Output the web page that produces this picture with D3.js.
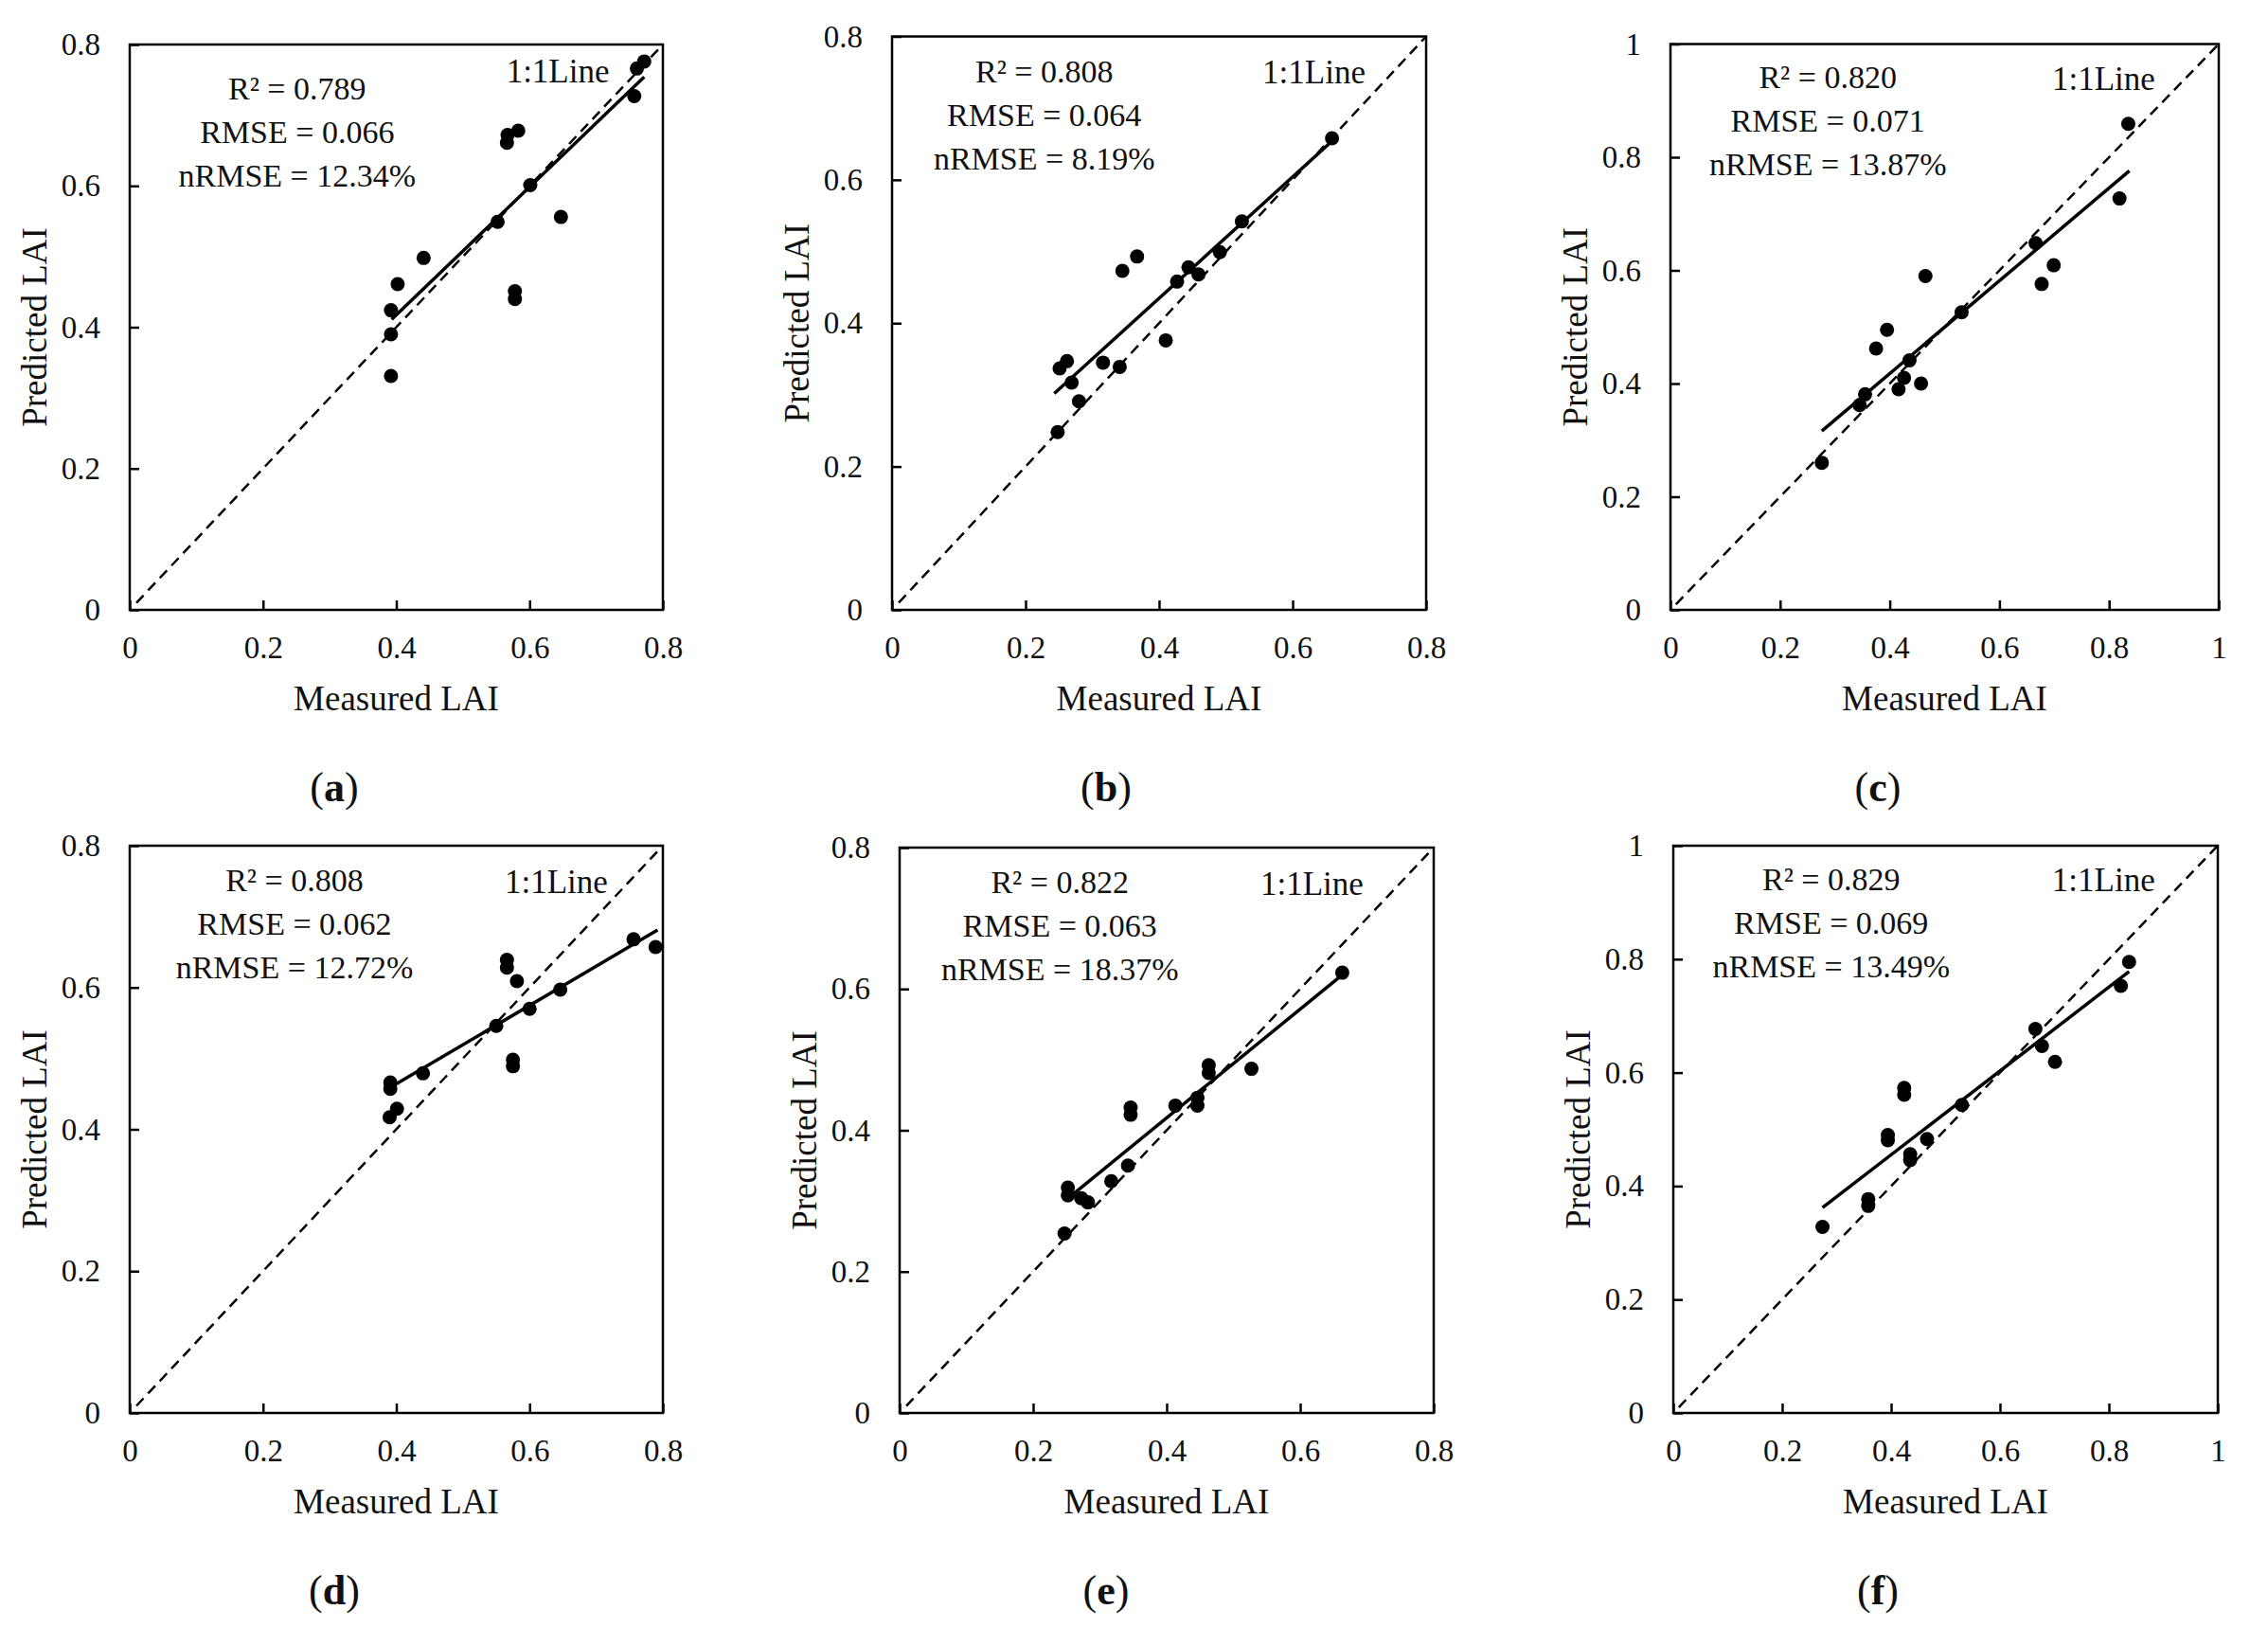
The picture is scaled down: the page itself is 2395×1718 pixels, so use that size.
<!DOCTYPE html>
<html>
<head>
<meta charset="utf-8">
<script src="https://cdn.jsdelivr.net/npm/d3@7"></script>
<style>
  html, body { margin: 0; padding: 0; background: #fff; }
  svg text { font-family: "Liberation Serif", "Times New Roman", serif; fill: #111; }
</style>
</head>
<body>
<svg id="chart" width="2395" height="1718"></svg>
<script>
/* Measured vs predicted LAI, six scatter panels (a)-(f) */

// ---- data ----
const TICKS_08 = [0, 0.2, 0.4, 0.6, 0.8];
const TICKS_10 = [0, 0.2, 0.4, 0.6, 0.8, 1];
const PANEL_NAMES = ['a', 'b', 'c', 'd', 'e', 'f'];
const AXIS_MAX = [0.8, 0.8, 1, 0.8, 0.8, 1];
const R2 = ['0.789', '0.808', '0.820', '0.808', '0.822', '0.829'];
const RMSE = ['0.066', '0.064', '0.071', '0.062', '0.063', '0.069'];
const NRMSE = ['12.34%', '8.19%', '13.87%', '12.72%', '18.37%', '13.49%'];

const measuredA = [0.772, 0.761, 0.757, 0.567, 0.566, 0.583, 0.601, 0.552, 0.647, 0.441, 0.402, 0.392, 0.392, 0.392, 0.578, 0.578];
const predictedA = [0.776, 0.766, 0.727, 0.672, 0.661, 0.678, 0.601, 0.549, 0.556, 0.498, 0.461, 0.424, 0.390, 0.331, 0.451, 0.440];
const fitXA = [0.393, 0.772];
const fitYA = [0.411, 0.754];

const measuredB = [0.659, 0.524, 0.491, 0.444, 0.427, 0.459, 0.367, 0.345, 0.410, 0.341, 0.316, 0.262, 0.251, 0.269, 0.280, 0.248];
const predictedB = [0.658, 0.542, 0.499, 0.478, 0.458, 0.468, 0.493, 0.473, 0.376, 0.339, 0.345, 0.347, 0.337, 0.317, 0.291, 0.248];
const fitXB = [0.243, 0.659];
const fitYB = [0.302, 0.654];

const measuredC = [0.835, 0.819, 0.666, 0.699, 0.677, 0.465, 0.531, 0.395, 0.375, 0.436, 0.426, 0.416, 0.457, 0.355, 0.345, 0.276];
const predictedC = [0.859, 0.727, 0.648, 0.609, 0.576, 0.590, 0.526, 0.495, 0.462, 0.441, 0.410, 0.390, 0.400, 0.381, 0.362, 0.260];
const fitXC = [0.276, 0.837];
const fitYC = [0.316, 0.776];

const measuredD = [0.756, 0.789, 0.566, 0.566, 0.581, 0.646, 0.600, 0.550, 0.575, 0.575, 0.440, 0.391, 0.391, 0.401, 0.390];
const predictedD = [0.668, 0.657, 0.639, 0.628, 0.609, 0.597, 0.570, 0.546, 0.498, 0.489, 0.479, 0.466, 0.457, 0.429, 0.417];
const fitXD = [0.391, 0.792];
const fitYD = [0.459, 0.681];

const measuredE = [0.663, 0.527, 0.463, 0.463, 0.446, 0.446, 0.413, 0.346, 0.346, 0.342, 0.317, 0.252, 0.252, 0.272, 0.282, 0.247];
const predictedE = [0.623, 0.487, 0.492, 0.481, 0.446, 0.435, 0.435, 0.432, 0.422, 0.350, 0.328, 0.319, 0.308, 0.304, 0.298, 0.254];
const fitXE = [0.25, 0.663];
const fitYE = [0.302, 0.620];

const measuredF = [0.837, 0.822, 0.665, 0.677, 0.701, 0.530, 0.424, 0.424, 0.394, 0.394, 0.466, 0.435, 0.435, 0.358, 0.358, 0.274];
const predictedF = [0.795, 0.753, 0.677, 0.647, 0.619, 0.543, 0.573, 0.561, 0.490, 0.481, 0.483, 0.456, 0.446, 0.377, 0.365, 0.328];
const fitXF = [0.274, 0.837];
const fitYF = [0.362, 0.778];

const SERIES = [
  [measuredA, predictedA, fitXA, fitYA],
  [measuredB, predictedB, fitXB, fitYB],
  [measuredC, predictedC, fitXC, fitYC],
  [measuredD, predictedD, fitXD, fitYD],
  [measuredE, predictedE, fitXE, fitYE],
  [measuredF, predictedF, fitXF, fitYF],
];

// ---- layout (pixels) ----
const FRAMES = [
  [137, 47, 700, 644], [942, 38.5, 1506, 644], [1764, 46.5, 2343, 644],
  [137, 893, 700, 1492], [950, 895, 1514, 1492], [1767, 893, 2342, 1492],
];
const NOTE_CX = [0.314, 0.285, 0.287, 0.309, 0.30, 0.29];
const NOTE_TOP = [58, 48, 46, 48, 48, 47];
const LINE_CX = [0.803, 0.79, 0.79, 0.80, 0.772, 0.79];
const LINE_TOP = [40, 49, 48, 50, 50, 48];
const CAPTION_X = [353, 1168, 1983, 353, 1168, 1983];
const CAPTION_Y = [846, 846, 846, 1694, 1694, 1694];

const svg = d3.select('#chart');
const fmt = d => String(+d.toFixed(1));

function drawPanel(i) {
  const [measured, predicted, fitX, fitY] = SERIES[i];
  const [x0, y0, x1, y1] = FRAMES[i];
  const max = AXIS_MAX[i];
  const ticks = max === 1 ? TICKS_10 : TICKS_08;

  const x = d3.scaleLinear().domain([0, max]).range([x0, x1]);
  const y = d3.scaleLinear().domain([0, max]).range([y1, y0]);
  const g = svg.append('g').attr('class', 'panel-' + PANEL_NAMES[i]);

  // axes, ticks pointing inward
  const xAxis = g.append('g')
    .attr('transform', `translate(0,${y1})`)
    .call(d3.axisBottom(x).tickValues(ticks).tickFormat(fmt)
      .tickSizeInner(-10).tickSizeOuter(0).tickPadding(28));
  const yAxis = g.append('g')
    .attr('transform', `translate(${x0},0)`)
    .call(d3.axisLeft(y).tickValues(ticks).tickFormat(fmt)
      .tickSizeInner(-10).tickSizeOuter(0).tickPadding(31));
  [xAxis, yAxis].forEach(a => {
    a.select('.domain').remove();
    a.selectAll('line').attr('stroke', '#000').attr('stroke-width', 2.5);
    a.selectAll('text').attr('font-size', 33).attr('fill', '#111')
      .style('font-family', '"Liberation Serif", serif');
  });

  // frame
  g.append('rect')
    .attr('x', x0).attr('y', y0)
    .attr('width', x1 - x0).attr('height', y1 - y0)
    .attr('fill', 'none').attr('stroke', '#000').attr('stroke-width', 2.5);

  // 1:1 line
  g.append('line')
    .attr('x1', x(0.01)).attr('y1', y(0.01))
    .attr('x2', x(max)).attr('y2', y(max))
    .attr('stroke', '#000').attr('stroke-width', 2.5)
    .attr('stroke-dasharray', '11,7');

  // regression line
  g.append('line')
    .attr('x1', x(fitX[0])).attr('y1', y(fitY[0]))
    .attr('x2', x(fitX[1])).attr('y2', y(fitY[1]))
    .attr('stroke', '#000').attr('stroke-width', 3.5);

  // points
  g.selectAll('circle.pt')
    .data(measured.map((m, k) => [m, predicted[k]]))
    .join('circle')
    .attr('class', 'pt')
    .attr('cx', d => x(d[0])).attr('cy', d => y(d[1]))
    .attr('r', 7.5).attr('fill', '#000');

  // stats text
  const cx = x0 + NOTE_CX[i] * (x1 - x0);
  const notes = [`R² = ${R2[i]}`, `RMSE = ${RMSE[i]}`, `nRMSE = ${NRMSE[i]}`];
  notes.forEach((t, k) => {
    g.append('text')
      .attr('x', cx).attr('y', y0 + NOTE_TOP[i] + k * 46)
      .attr('text-anchor', 'middle').attr('font-size', 34)
      .text(t);
  });

  g.append('text')
    .attr('x', x0 + LINE_CX[i] * (x1 - x0)).attr('y', y0 + LINE_TOP[i])
    .attr('text-anchor', 'middle').attr('font-size', 35)
    .text('1:1Line');

  // axis titles
  g.append('text')
    .attr('x', (x0 + x1) / 2).attr('y', y1 + 106)
    .attr('text-anchor', 'middle').attr('font-size', 37)
    .text('Measured LAI');
  g.append('text')
    .attr('transform', `translate(${x0 - 88},${(y0 + y1) / 2}) rotate(-90)`)
    .attr('text-anchor', 'middle').attr('font-size', 37)
    .text('Predicted LAI');

  // caption (a), (b) ...
  const cap = g.append('text')
    .attr('x', CAPTION_X[i]).attr('y', CAPTION_Y[i])
    .attr('text-anchor', 'middle').attr('font-size', 44);
  cap.append('tspan').text('(');
  cap.append('tspan').attr('font-weight', 'bold').text(PANEL_NAMES[i]);
  cap.append('tspan').text(')');
}

PANEL_NAMES.forEach((_, i) => drawPanel(i));
</script>
</body>
</html>
